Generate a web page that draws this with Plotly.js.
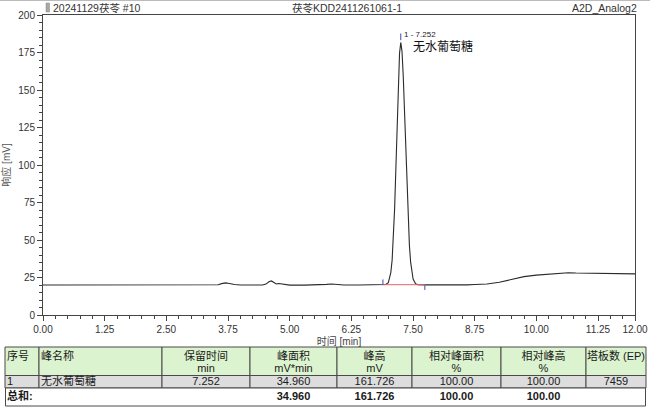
<!DOCTYPE html>
<html>
<head>
<meta charset="utf-8">
<script src="https://cdn.plot.ly/plotly-3.0.1.min.js"></script>
<style>html,body{margin:0;padding:0;background:#fff;}#chart{width:650px;height:408px;}</style>
</head>
<body>
<div id="chart"></div>
<script>
// ---- chromatogram data ----
const timeMin = [0.00,0.50,1.00,1.50,2.00,2.50,3.00,3.25,3.33,3.40,3.55,3.62,3.70,3.78,3.88,4.00,4.30,4.45,4.52,4.58,4.63,4.68,4.73,4.78,4.85,5.00,5.30,5.60,5.75,5.85,5.95,6.10,6.40,6.70,6.85,6.95,7.00,7.05,7.077,7.10,7.127,7.152,7.177,7.202,7.227,7.252,7.277,7.302,7.327,7.352,7.377,7.402,7.427,7.452,7.477,7.502,7.552,7.60,7.75,8.00,8.30,8.60,8.75,9.00,9.25,9.50,9.75,10.00,10.25,10.50,10.65,10.80,11.00,11.25,11.50,11.75,12.00];
const responseMV = [20.0,20.0,20.0,20.0,20.1,20.0,20.0,20.1,20.5,20.2,20.2,20.9,21.4,21.0,20.3,20.0,20.0,20.0,20.6,22.2,22.7,21.4,20.7,21.0,20.5,19.9,19.9,20.0,20.4,20.7,20.4,20.0,20.0,20.1,20.2,20.3,21.6,28.3,36.6,50.3,70.6,96.9,126.4,154.2,174.4,181.7,175.8,159.5,136.0,109.6,84.2,62.8,46.5,35.2,28.1,24.0,20.8,20.2,20.1,20.0,19.9,20.1,20.3,20.7,21.8,23.6,25.6,26.6,27.2,27.7,28.2,28.0,27.9,27.8,27.8,27.6,27.4];

// peak info
const peakNo = [1];
const peakName = ['无水葡萄糖'];
const retTime = [7.252];
const peakApexMV = [181.7];
const integStart = [6.89, 20.2];   // [time, mV]
const integEnd = [7.74, 20.2];

// axis ticks
const xTickVals = [0,1.25,2.5,3.75,5,6.25,7.5,8.75,10,11.25,12];
const xTickText = ['0.00','1.25','2.50','3.75','5.00','6.25','7.50','8.75','10.00','11.25','12.00'];
const yTickVals = [0,25,50,75,100,125,150,175,200];
const yTickText = ['0','25','50','75','100','125','150','175','200'];

// table data
const hdrLine1 = ['序号','峰名称','保留时间','峰面积','峰高','相对峰面积','相对峰高','塔板数 (EP)'];
const hdrLine2 = ['','','min','mV*min','mV','%','%',''];
const rowData = ['1','无水葡萄糖','7.252','34.960','161.726','100.00','100.00','7459'];
const rowTotal = ['总和:','','','34.960','161.726','100.00','100.00',''];

// ---- table styling (pixel layout) ----
const colEdges = [5,39,162,250,337,412,501,586,646];
const colAlign = ['left','left','center','center','center','center','center','center'];
const rowTop = [347,375.5,388];
const rowH = [28.5,12.5,18];
const rowFill = ['#dcf3cf','#dddddd','#ffffff'];

const FONT = 'Liberation Sans, Arial, Noto Sans CJK SC, sans-serif';
const W = 650, H = 408;
const px = v => v / W, py = v => 1 - v / H;

const traces = [
  {x: timeMin, y: responseMV, type: 'scatter', mode: 'lines',
   line: {color: '#2b2b2b', width: 1.1}, hoverinfo: 'skip', xaxis: 'x', yaxis: 'y'},
  {x: [integStart[0], integEnd[0]], y: [integStart[1], integEnd[1]], type: 'scatter', mode: 'lines',
   line: {color: '#e8626a', width: 1}, hoverinfo: 'skip'},
  {x: [integStart[0], integStart[0]], y: [integStart[1], integStart[1] + 3.5], type: 'scatter', mode: 'lines',
   line: {color: '#3a4bb0', width: 1}, hoverinfo: 'skip'},
  {x: [integEnd[0], integEnd[0]], y: [integEnd[1] - 0.5, integEnd[1] - 3.5], type: 'scatter', mode: 'lines',
   line: {color: '#3a4bb0', width: 1}, hoverinfo: 'skip'},
  {x: [retTime[0], retTime[0]], y: [peakApexMV[0] + 1.5, peakApexMV[0] + 6], type: 'scatter', mode: 'lines',
   line: {color: '#3a4bb0', width: 1}, hoverinfo: 'skip'}
];

// table cells as horizontal bars on a pixel-scaled subplot
const rowCenter = rowTop.map((t, i) => t + rowH[i] / 2);
for (let c = 0; c < colEdges.length - 1; c++) {
  const w = colEdges[c + 1] - colEdges[c];
  traces.push({
    type: 'bar', orientation: 'h', xaxis: 'x2', yaxis: 'y2',
    y: rowCenter, x: rowCenter.map(() => w), base: rowCenter.map(() => colEdges[c]),
    width: rowH, hoverinfo: 'skip',
    marker: {color: rowFill, line: {color: '#4a4a4a', width: [1, 1, 0]}}
  });
}
// table texts
const txtX = [], txtY = [], txtT = [], txtPos = [];
function addText(col, y, t, bold) {
  if (!t) return;
  const left = colAlign[col] === 'left';
  txtX.push(left ? colEdges[col] + 2 : (colEdges[col] + colEdges[col + 1]) / 2);
  txtY.push(y);
  txtT.push(bold ? '<b>' + t + '</b>' : t);
  txtPos.push(left ? 'middle right' : 'middle center');
}
for (let c = 0; c < hdrLine1.length; c++) {
  addText(c, rowTop[0] + 10, hdrLine1[c]);
  addText(c, rowTop[0] + 22, hdrLine2[c]);
  addText(c, rowCenter[1], rowData[c]);
  addText(c, rowCenter[2], rowTotal[c], true);
}
traces.push({type: 'scatter', mode: 'text', xaxis: 'x2', yaxis: 'y2', x: txtX, y: txtY, text: txtT,
  textposition: txtPos, cliponaxis: false, hoverinfo: 'skip',
  textfont: {family: FONT, size: 11, color: '#1a1a1a'}});

const layout = {
  width: W, height: H,
  margin: {l: 0, r: 0, t: 0, b: 0},
  paper_bgcolor: '#fff', plot_bgcolor: 'rgba(0,0,0,0)',
  showlegend: false, barmode: 'overlay',
  font: {family: FONT, color: '#333'},
  xaxis: {
    domain: [px(43), px(635)], range: [0, 12],
    tickmode: 'array', tickvals: xTickVals, ticktext: xTickText,
    ticks: 'outside', ticklen: 5, tickcolor: '#444', tickwidth: 1,
    showline: true, linecolor: '#444', linewidth: 1, mirror: true,
    showgrid: false, zeroline: false,
    minor: {dtick: 0.25, tick0: 0, ticks: 'outside', ticklen: 3, tickcolor: '#444', showgrid: false},
    tickfont: {family: FONT, size: 10, color: '#333'},
    title: {text: '时间 [min]', font: {family: FONT, size: 10, color: '#444'}, standoff: 3}
  },
  yaxis: {
    domain: [1 - 315 / H, 1 - 15 / H], range: [0, 200],
    tickmode: 'array', tickvals: yTickVals, ticktext: yTickText,
    ticks: 'outside', ticklen: 5, tickcolor: '#444', tickwidth: 1,
    showline: true, linecolor: '#444', linewidth: 1, mirror: true,
    showgrid: false, zeroline: false,
    minor: {dtick: 5, tick0: 0, ticks: 'outside', ticklen: 3, tickcolor: '#444', showgrid: false},
    tickfont: {family: FONT, size: 10, color: '#333'},
    title: {text: '响应 [mV]', font: {family: FONT, size: 10, color: '#555'}, standoff: 8}
  },
  xaxis2: {domain: [0, 1], range: [0, W], visible: false, fixedrange: true},
  yaxis2: {domain: [0, py(345)], range: [H, 345], visible: false, fixedrange: true},
  annotations: [
    {xref: 'x', yref: 'y', x: retTime[0], y: peakApexMV[0] + 5, text: peakNo[0] + ' - ' + retTime[0].toFixed(3),
     showarrow: false, xanchor: 'left', yanchor: 'middle', xshift: 1, font: {family: FONT, size: 8, color: '#222'}},
    {xref: 'x', yref: 'y', x: retTime[0], y: peakApexMV[0] - 3, text: peakName[0],
     showarrow: false, xanchor: 'left', yanchor: 'middle', xshift: 10, font: {family: FONT, size: 12, color: '#111'}},
    {xref: 'paper', yref: 'paper', x: px(51), y: py(7.5), text: '20241129茯苓 #10', showarrow: false, xanchor: 'left', yanchor: 'middle',
     font: {family: FONT, size: 10.5, color: '#333'}},
    {xref: 'paper', yref: 'paper', x: px(347), y: py(7.5), text: '茯苓KDD2411261061-1', showarrow: false, xanchor: 'center', yanchor: 'middle',
     font: {family: FONT, size: 10.5, color: '#333'}},
    {xref: 'paper', yref: 'paper', x: px(639), y: py(7.5), text: 'A2D_Analog2', showarrow: false, xanchor: 'right', yanchor: 'middle',
     font: {family: FONT, size: 10.5, color: '#333'}}
  ],
  shapes: [
    {type: 'line', xref: 'paper', yref: 'paper', x0: 0, x1: 1, y0: py(0.5), y1: py(0.5), line: {color: '#bbb', width: 1}},
    {type: 'rect', xref: 'paper', yref: 'paper', x0: px(46), x1: px(49.5), y0: py(3), y1: py(12), fillcolor: '#a8a8a8', line: {color: '#888', width: 0.5}},
    {type: 'rect', xref: 'paper', yref: 'paper', x0: px(5.5), x1: px(645.5), y0: py(388), y1: py(406), line: {color: '#4a4a4a', width: 1}}
  ]
};

Plotly.newPlot('chart', traces, layout, {staticPlot: true, displayModeBar: false});
</script>
</body>
</html>
